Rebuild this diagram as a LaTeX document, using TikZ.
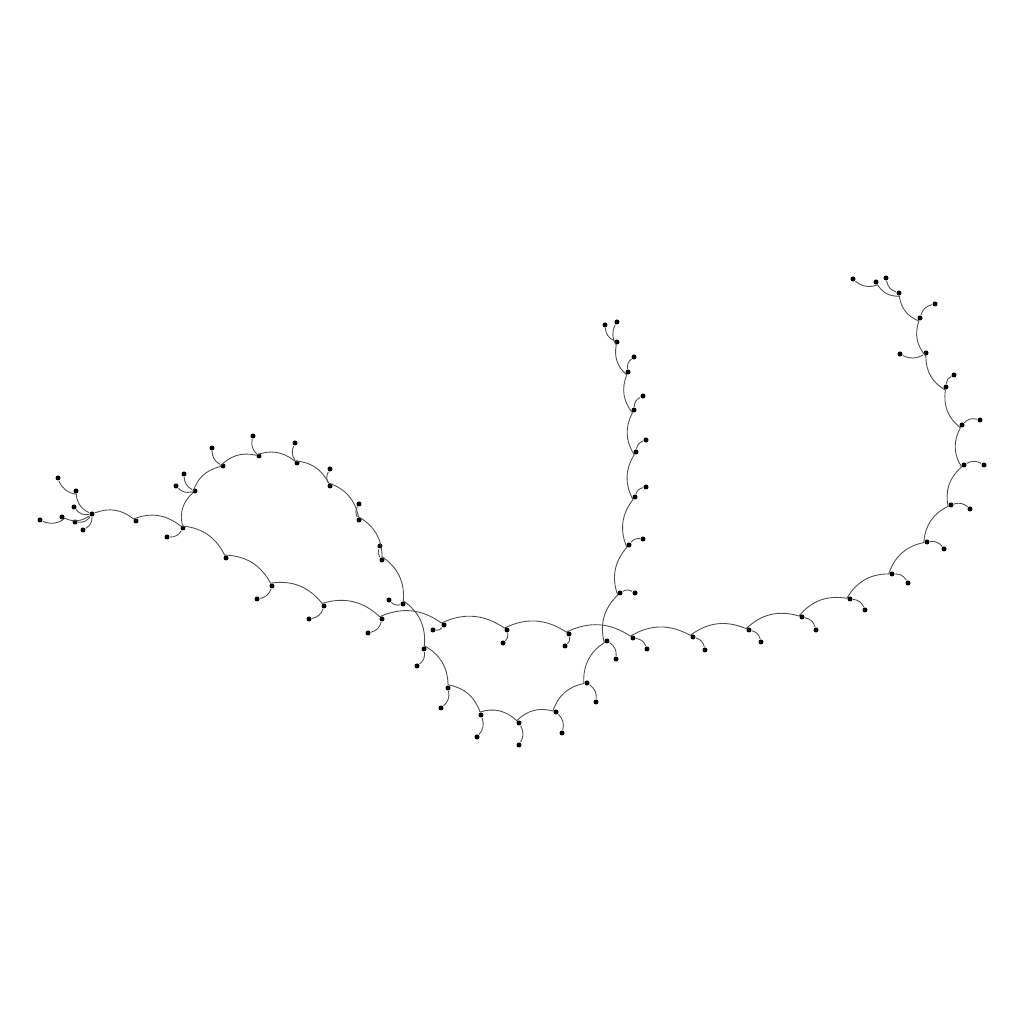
\documentclass[tikz,border=0pt]{standalone}
\usepackage{tikz}
\tikzset {
  % graph vertex
  vtx/.style = {
    circle,
    fill = black,
    minimum size = 0.5mm,
    inner sep = 0
  },
  % bent connector
  link/.style = {
    draw = black!70,
    line width = 0.25pt,
    bend left = 30
  }
}

\begin{document}
\begin{tikzpicture}[x = 0.1mm, y = 0.1mm]
    \useasboundingbox (0,0) rectangle (1024,1024);

    % left tuft
    \node[vtx] (t0) at (92,510) {};
    \node[vtx] (t1) at (76,533) {};
    \node[vtx] (t1x) at (58,546) {};
    \node[vtx] (t2) at (74,517) {};
    \node[vtx] (t3) at (62,507) {};
    \node[vtx] (t3x) at (40,504) {};
    \node[vtx] (t4) at (75,502) {};
    \node[vtx] (t5) at (83,494) {};

    % main spine
    \node[vtx] (s1) at (136,503) {};
    \node[vtx] (s2) at (183,496) {};
    \node[vtx] (s2x) at (167,487) {};
    \node[vtx] (s3) at (226,466) {};
    \node[vtx] (s4) at (272,438) {};
    \node[vtx] (s4x) at (257,425) {};
    \node[vtx] (s5) at (324,418) {};
    \node[vtx] (s5x) at (309,405) {};
    \node[vtx] (s6) at (382,405) {};
    \node[vtx] (s6x) at (368,391) {};
    \node[vtx] (s7) at (444,399) {};
    \node[vtx] (s7x) at (433,394) {};
    \node[vtx] (s8) at (507,394) {};
    \node[vtx] (s8x) at (503,381) {};
    \node[vtx] (s9) at (569,390) {};
    \node[vtx] (s9x) at (565,378) {};
    \node[vtx] (s10) at (633,386) {};
    \node[vtx] (s10x) at (647,375) {};
    \node[vtx] (s11) at (693,387) {};
    \node[vtx] (s11x) at (705,374) {};
    \node[vtx] (s12) at (749,394) {};
    \node[vtx] (s12x) at (761,382) {};
    \node[vtx] (s13) at (802,407) {};
    \node[vtx] (s13x) at (816,394) {};
    \node[vtx] (s14) at (850,425) {};
    \node[vtx] (s14x) at (865,414) {};
    \node[vtx] (s15) at (892,450) {};
    \node[vtx] (s15x) at (908,441) {};
    \node[vtx] (s16) at (927,482) {};
    \node[vtx] (s16x) at (944,475) {};
    \node[vtx] (s17) at (951,519) {};
    \node[vtx] (s17x) at (970,515) {};
    \node[vtx] (s18) at (964,559) {};
    \node[vtx] (s18x) at (984,559) {};
    \node[vtx] (s19) at (962,599) {};
    \node[vtx] (s19x) at (980,604) {};
    \node[vtx] (s20) at (946,637) {};
    \node[vtx] (s20x) at (954,649) {};
    \node[vtx] (s21) at (926,671) {};
    \node[vtx] (s21x) at (900,670) {};
    \node[vtx] (s22) at (920,706) {};
    \node[vtx] (s22x) at (935,720) {};
    \node[vtx] (s23) at (899,731) {};
    \node[vtx] (s23x) at (886,746) {};
    \node[vtx] (s23y) at (876,742) {};
    \node[vtx] (s23z) at (853,745) {};

    % loop
    \node[vtx] (L1) at (195,533) {};
    \node[vtx] (L1x) at (184,550) {};
    \node[vtx] (L1y) at (176,538) {};
    \node[vtx] (L2) at (223,558) {};
    \node[vtx] (L2x) at (212,576) {};
    \node[vtx] (L3) at (259,568) {};
    \node[vtx] (L3x) at (253,588) {};
    \node[vtx] (L4) at (297,561) {};
    \node[vtx] (L4x) at (295,581) {};
    \node[vtx] (L5) at (330,538) {};
    \node[vtx] (L5x) at (330,555) {};
    \node[vtx] (L6) at (359,504) {};
    \node[vtx] (L6x) at (359,520) {};
    \node[vtx] (L7) at (382,464) {};
    \node[vtx] (L7x) at (380,478) {};
    \node[vtx] (L8) at (403,420) {};
    \node[vtx] (L8x) at (389,424) {};
    \node[vtx] (L9) at (424,375) {};
    \node[vtx] (L9x) at (417,358) {};
    \node[vtx] (L10) at (448,336) {};
    \node[vtx] (L10x) at (441,316) {};
    \node[vtx] (L11) at (481,309) {};
    \node[vtx] (L11x) at (477,287) {};
    \node[vtx] (L12) at (519,301) {};
    \node[vtx] (L12x) at (519,279) {};
    \node[vtx] (L13) at (556,312) {};
    \node[vtx] (L13x) at (562,291) {};
    \node[vtx] (L14) at (587,341) {};
    \node[vtx] (L14x) at (596,322) {};
    \node[vtx] (L15) at (607,383) {};
    \node[vtx] (L15x) at (616,365) {};

    % upright branch
    \node[vtx] (V1) at (620,431) {};
    \node[vtx] (V1x) at (635,431) {};
    \node[vtx] (V2) at (629,479) {};
    \node[vtx] (V2x) at (643,485) {};
    \node[vtx] (V3) at (635,527) {};
    \node[vtx] (V3x) at (646,537) {};
    \node[vtx] (V4) at (636,572) {};
    \node[vtx] (V4x) at (646,584) {};
    \node[vtx] (V5) at (634,614) {};
    \node[vtx] (V5x) at (643,628) {};
    \node[vtx] (V6) at (628,652) {};
    \node[vtx] (V6x) at (634,667) {};
    \node[vtx] (V7) at (617,682) {};
    \node[vtx] (V7x) at (605,699) {};
    \node[vtx] (V7y) at (617,702) {};

    \draw[link] (t0) to (t1) to (t1x);
    \draw[link] (t0) to (t2);
    \draw[link] (t0) to (t3) to (t3x);
    \draw[link] (t0) to (t4);
    \draw[link] (t0) to (t5);

    \draw[link] (t0)
      to (s1) to (s2) to (s3) to (s4) to (s5) to (s6) to (s7) to (s8)
      to (s9) to (s10) to (s11) to (s12) to (s13) to (s14) to (s15)
      to (s16) to (s17) to (s18) to (s19) to (s20) to (s21) to (s22)
      to (s23) to (s23y) to (s23z);
    \draw[link] (s23) to (s23x);

    \draw[link] (s2) to (s2x);
    \draw[link] (s4) to (s4x);
    \draw[link] (s5) to (s5x);
    \draw[link] (s6) to (s6x);
    \draw[link] (s7) to (s7x);
    \draw[link] (s8) to (s8x);
    \draw[link] (s9) to (s9x);
    \draw[link] (s10) to (s10x);
    \draw[link] (s11) to (s11x);
    \draw[link] (s12) to (s12x);
    \draw[link] (s13) to (s13x);
    \draw[link] (s14) to (s14x);
    \draw[link] (s15) to (s15x);
    \draw[link] (s16) to (s16x);
    \draw[link] (s17) to (s17x);
    \draw[link] (s18) to (s18x);
    \draw[link] (s19) to (s19x);
    \draw[link] (s20) to (s20x);
    \draw[link] (s21) to (s21x);
    \draw[link] (s22) to (s22x);

    \draw[link] (s2)
      to (L1) to (L2) to (L3) to (L4) to (L5) to (L6) to (L7) to (L8)
      to (L9) to (L10) to (L11) to (L12) to (L13) to (L14) to (L15)
      to (V1) to (V2) to (V3) to (V4) to (V5) to (V6) to (V7) to (V7y);
    \draw[link] (V7) to (V7x);

    \draw[link] (L1) to (L1x);
    \draw[link] (L1) to (L1y);
    \draw[link] (L2) to (L2x);
    \draw[link] (L3) to (L3x);
    \draw[link] (L4) to (L4x);
    \draw[link] (L5) to (L5x);
    \draw[link] (L6) to (L6x);
    \draw[link] (L7) to (L7x);
    \draw[link] (L8) to (L8x);
    \draw[link] (L9) to (L9x);
    \draw[link] (L10) to (L10x);
    \draw[link] (L11) to (L11x);
    \draw[link] (L12) to (L12x);
    \draw[link] (L13) to (L13x);
    \draw[link] (L14) to (L14x);
    \draw[link] (L15) to (L15x);

    \draw[link] (V1) to (V1x);
    \draw[link] (V2) to (V2x);
    \draw[link] (V3) to (V3x);
    \draw[link] (V4) to (V4x);
    \draw[link] (V5) to (V5x);
    \draw[link] (V6) to (V6x);
\end{tikzpicture}
\end{document}
